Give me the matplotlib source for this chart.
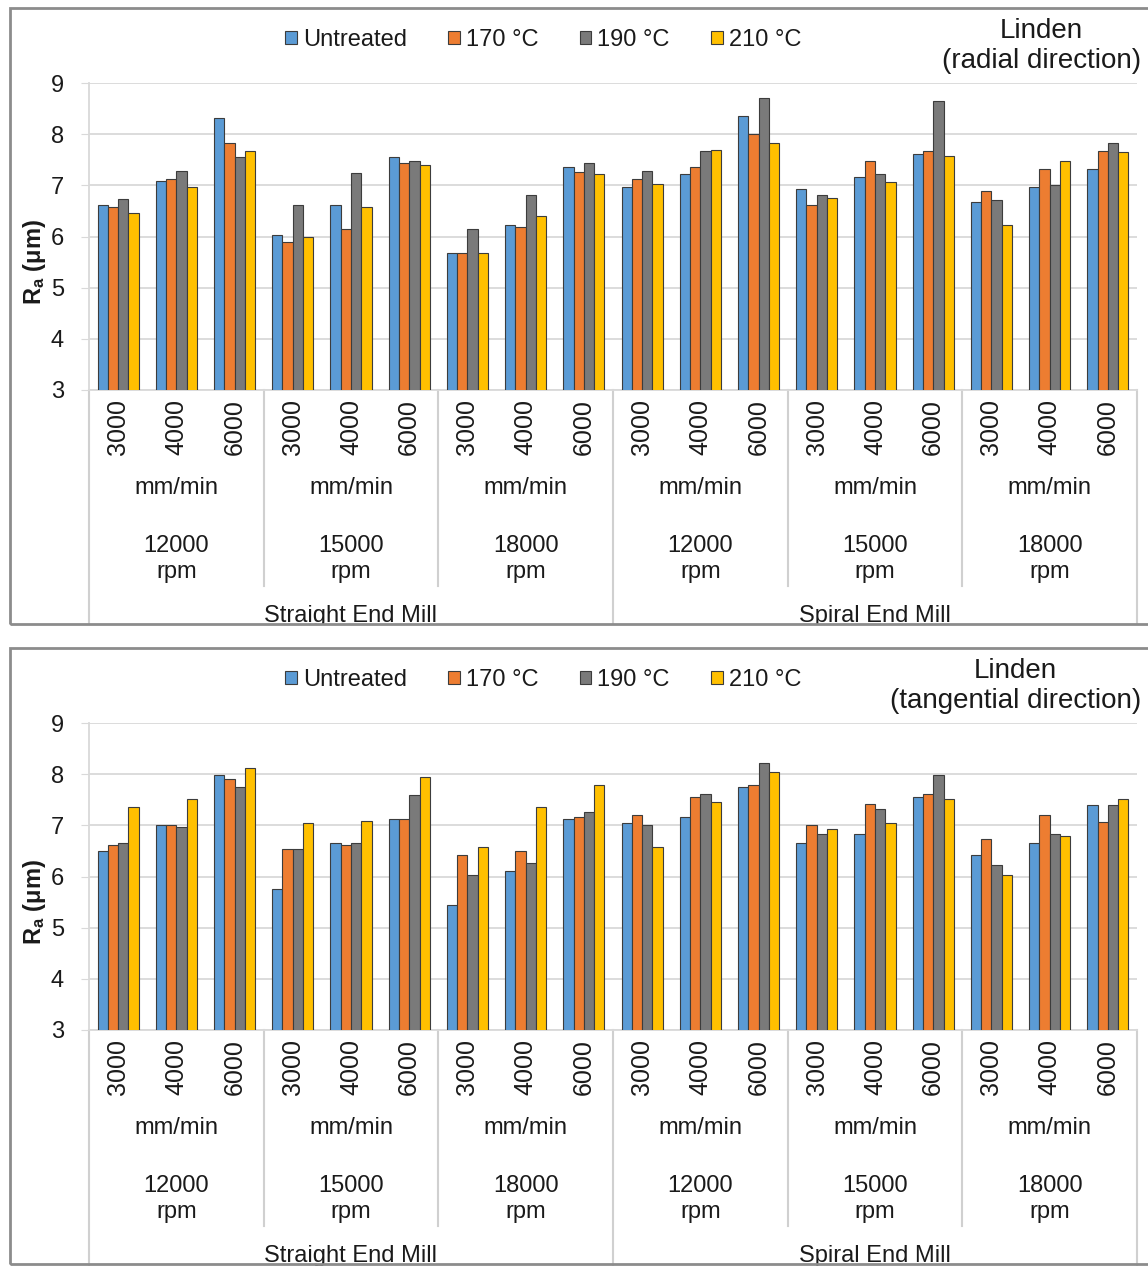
import matplotlib.pyplot as plt
import matplotlib.transforms as mtransforms
from matplotlib.patches import Rectangle, Patch
import numpy as np

plt.rcParams['font.family'] = ['Liberation Sans', 'DejaVu Sans']
plt.rcParams['mathtext.fontset'] = 'custom'
plt.rcParams['mathtext.rm'] = 'Liberation Sans'
plt.rcParams['mathtext.it'] = 'Liberation Sans:italic'
plt.rcParams['mathtext.bf'] = 'Liberation Sans:bold'

#%% data

feeds = ['3000', '4000', '6000']
speeds = ['12000\nrpm', '15000\nrpm', '18000\nrpm']
mills = ['Straight End Mill', 'Spiral End Mill']
series = ['Untreated', '170 °C', '190 °C', '210 °C']
colors = ['#5b9bd5', '#ed7d31', '#7a7a7a', '#ffc000']

# radial direction
rad_untreated = [6.61, 7.08, 8.32, 6.03, 6.61, 7.55, 5.68, 6.22, 7.35,
                 6.96, 7.23, 8.36, 6.92, 7.16, 7.62, 6.68, 6.96, 7.31]
rad_170 = [6.57, 7.12, 7.82, 5.90, 6.14, 7.43, 5.68, 6.18, 7.27,
           7.12, 7.35, 8.01, 6.61, 7.47, 7.67, 6.88, 7.31, 7.67]
rad_190 = [6.74, 7.28, 7.55, 6.61, 7.24, 7.48, 6.14, 6.81, 7.43,
           7.28, 7.67, 8.71, 6.81, 7.23, 8.64, 6.72, 7.00, 7.82]
rad_210 = [6.45, 6.96, 7.67, 5.99, 6.57, 7.39, 5.68, 6.41, 7.23,
           7.03, 7.70, 7.82, 6.76, 7.07, 7.57, 6.22, 7.47, 7.65]

# tangential direction
tan_untreated = [6.50, 7.00, 7.98, 5.75, 6.65, 7.12, 5.44, 6.10, 7.12,
                 7.04, 7.16, 7.75, 6.65, 6.84, 7.55, 6.42, 6.65, 7.39]
tan_170 = [6.61, 7.00, 7.90, 6.53, 6.61, 7.12, 6.42, 6.50, 7.16,
           7.20, 7.55, 7.78, 7.00, 7.42, 7.62, 6.73, 7.20, 7.07]
tan_190 = [6.65, 6.97, 7.75, 6.53, 6.65, 7.59, 6.03, 6.26, 7.27,
           7.00, 7.62, 8.22, 6.84, 7.31, 7.98, 6.22, 6.84, 7.39]
tan_210 = [7.35, 7.52, 8.13, 7.04, 7.08, 7.94, 6.58, 7.35, 7.78,
           6.57, 7.46, 8.05, 6.92, 7.04, 7.51, 6.02, 6.80, 7.51]

W, H = 1148, 1266
fig = plt.figure(figsize=(W / 100, H / 100), dpi=100)
txt = '#1a1a1a'
sep = '#d0d0d0'


def box(x0, y0, x1, y1):
    # pixel box measured from the top left -> figure fraction
    return [x0 / W, 1 - y1 / H, (x1 - x0) / W, (y1 - y0) / H]


def panel(top, vals, title):
    # chart border
    fig.patches.append(Rectangle((10 / W, 1 - (top + 616) / H), 1150 / W, 616 / H,
                                 transform=fig.transFigure, fill=False,
                                 ec='#8c8c8c', lw=2, zorder=10))
    y9, y3 = top + 75, top + 382
    ax = fig.add_axes(box(89, y9, 1137, y3))
    ah = y3 - y9

    n = len(vals[0])
    x = np.arange(n)
    bw = 0.177
    for k in range(4):
        ax.bar(x + (k - 1.5) * bw, vals[k], bw, color=colors[k],
               edgecolor='#3c3c3c', linewidth=0.8, zorder=3)

    ax.set_xlim(-0.5, n - 0.5)
    ax.set_ylim(3, 9)
    ax.set_yticks(range(3, 10))
    ax.yaxis.grid(True, color='#d9d9d9', lw=1.3)
    ax.set_axisbelow(True)
    for s in ['top', 'right']:
        ax.spines[s].set_visible(False)
    ax.spines['left'].set_color('#d9d9d9')
    ax.spines['bottom'].set_color('#d9d9d9')
    ax.spines['left'].set_linewidth(1.3)
    ax.spines['bottom'].set_linewidth(1.3)
    ax.set_xticks([])
    ax.tick_params(axis='y', length=6, color='#d9d9d9', labelsize=17,
                   labelcolor=txt, pad=12)

    tr = mtransforms.blended_transform_factory(ax.transData, ax.transAxes)

    def fy(off):
        return -off / ah

    # category levels
    for i in range(n):
        ax.text(x[i], fy(9), feeds[i % 3], rotation=90, ha='center', va='top',
                fontsize=18, color=txt, transform=tr, clip_on=False)
    for g in range(n // 3):
        xc = 3 * g + 1
        ax.text(xc, fy(98), 'mm/min', ha='center', va='center', fontsize=17,
                color=txt, transform=tr, clip_on=False)
        ax.text(xc, fy(169), speeds[g % 3], ha='center', va='center',
                fontsize=17, color=txt, transform=tr, clip_on=False,
                linespacing=1.25)
    for m in range(2):
        ax.text(9 * m + 4, fy(226), mills[m], ha='center', va='center',
                fontsize=17, color=txt, transform=tr, clip_on=False)

    # separators
    for xs in np.arange(-0.5, n, 3):
        long_line = (xs + 0.5) % 9 == 0
        end = 240 if long_line else 196
        ax.plot([xs, xs], [0, fy(end)], color=sep, lw=1.5, transform=tr,
                clip_on=False)

    handles = [Patch(fc=c, ec='#3c3c3c', lw=0.8) for c in colors]
    fig.legend(handles, series, loc='center', ncol=4, frameon=False,
               bbox_to_anchor=(543 / W, 1 - (top + 32) / H),
               bbox_transform=fig.transFigure, fontsize=17,
               handlelength=0.5, handleheight=0.5, handletextpad=0.25,
               columnspacing=1.75, labelcolor=txt)

    fig.text(1141 / W, 1 - (top + 38) / H, title, ha='right', va='center',
             multialignment='center', fontsize=20, color=txt, linespacing=1.2)
    fig.text(35 / W, 1 - (top + 254) / H, r'$\mathbf{R_a}$ (μm)', rotation=90,
             ha='center', va='center', fontsize=17, fontweight='bold', color=txt)
    return ax


panel(8, [rad_untreated, rad_170, rad_190, rad_210], 'Linden\n(radial direction)')
panel(648, [tan_untreated, tan_170, tan_190, tan_210],
      'Linden\n(tangential direction)')

# white gap between the two chart boxes
fig.patches.append(Rectangle((0, 1 - 647 / H), 1, 22 / H, transform=fig.transFigure,
                             fc='white', ec='none', zorder=9))

fig.savefig('out.png', dpi=100)
